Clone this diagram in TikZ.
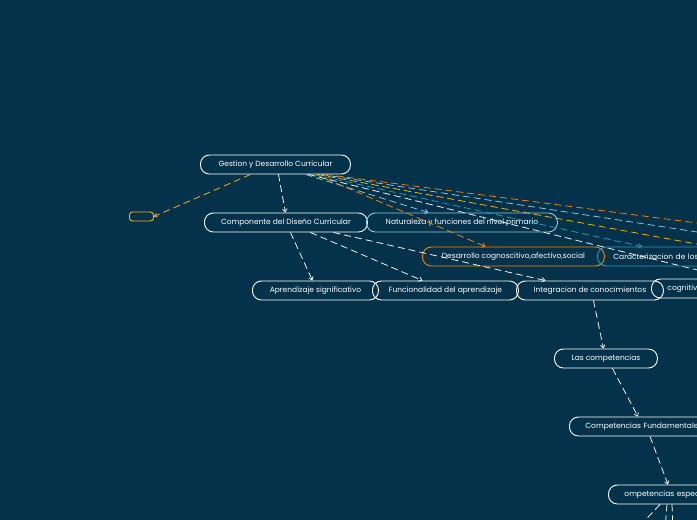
\documentclass[tikz,border=0pt]{standalone}
\usepackage{fontspec}
\setmainfont{Poppins}
\usetikzlibrary{arrows.meta,calc}
\definecolor{bg}{HTML}{03324A}
\definecolor{corange}{HTML}{FB8500}
\definecolor{camber}{HTML}{FFB703}
\definecolor{cblue}{HTML}{219EBC}
\definecolor{cpale}{HTML}{8ECAE6}
\begin{document}
\begin{tikzpicture}[x=1pt,y=-1pt,
  box/.style={draw=white, line width=0.9pt, rounded corners=9pt, minimum height=19pt, inner ysep=0pt, text=white, font=\fontsize{7.5}{9}\selectfont, anchor=west},
  cutbox/.style={box, inner xsep=16pt, text width=220pt, align=left},
  con/.style={dash pattern=on 7pt off 4pt, line width=0.75pt, -{Straight Barb[length=3pt,width=4.5pt]}},
  wcon/.style={con, draw=white},
  ocon/.style={con, draw=corange},
  acon/.style={con, draw=camber},
  bcon/.style={con, draw=cblue},
  pcon/.style={con, draw=cpale}]
\fill[bg] (0,0) rectangle (697,520);
\useasboundingbox (0,0) rectangle (697,520);
\clip (0,0) rectangle (697,520);

% free ends
\coordinate (o1) at (720,226);
\coordinate (p1) at (720,235.5);
\coordinate (a1) at (720,248.3);
\coordinate (w1) at (734,279);
\coordinate (d1) at (636,530);
\coordinate (d2) at (665,530);
\coordinate (d3) at (673,530);

\node[box, minimum width=150pt] (G) at (200,164.5) {Gestion y Desarrollo Curricular};
% lines from Gestion to the right (drawn first, under boxes)
\draw[ocon] ([xshift=50pt]G.south) -- (o1);
\draw[pcon] ([xshift=46pt]G.south) -- (p1);
\draw[acon] ([xshift=42pt]G.south) -- (a1);
\draw[wcon] ([xshift=33pt]G.south) -- (w1);

\node[box, draw=camber, minimum width=24pt, minimum height=9pt, rounded corners=3pt] (E) at (129,216.5) {};
\node[box, minimum width=163pt] (C) at (204,222.5) {Componente del Diseño Curricular};
\node[box, draw=cpale, minimum width=191pt] (N) at (366,222.5) {Naturaleza y funciones del nivel primario};
\node[box, draw=corange, minimum width=182pt] (D) at (422,256.5) {Desarrollo cognoscitivo,afectivo,social};
\node[cutbox, draw=cblue] (K) at (597,256.5) {Caracterizacion de los};
\node[box, minimum width=126pt] (A) at (252,290.5) {Aprendizaje significativo};
\node[box, minimum width=146pt] (F) at (372,290.5) {Funcionalidad del aprendizaje};
\node[box, minimum width=147pt] (I) at (516,290.5) {Integracion de conocimientos};
\node[cutbox] (Cg) at (651,288.5) {cognitiv};
\node[box, minimum width=103pt] (L) at (554,358.5) {Las competencias};
\node[cutbox] (CF) at (569,426.5) {Competencias Fundamentale};
\node[cutbox] (OE) at (608,494.5) {ompetencias espec};

% connectors
\draw[acon] ([xshift=-25pt]G.south) -- (E.east);
\draw[wcon] ([xshift=3pt]G.south) -- ([xshift=-0.5pt]C.north);
\draw[pcon] ([xshift=30pt]G.south) -- ([xshift=-33.5pt]N.north);
\draw[ocon] ([xshift=40pt]G.south) -- ([xshift=-28pt]D.north);
\draw[bcon] ([xshift=38pt]G.south) -- ([xshift=45pt]K.north west);
\draw[wcon] ([xshift=4.5pt]C.south) -- ([xshift=-3pt]A.north);
\draw[wcon] ([xshift=24.5pt]C.south) -- ([xshift=-23pt]F.north);
\draw[wcon] ([xshift=47.5pt]C.south) -- ([xshift=-44.5pt]I.north);
\draw[wcon] ([xshift=3.5pt]I.south) -- ([xshift=-2.5pt]L.north);
\draw[wcon] ([xshift=6.5pt]L.south) -- ([xshift=69pt]CF.north west);
\draw[wcon] ([xshift=81pt]CF.south west) -- ([xshift=60pt]OE.north west);
\draw[wcon, -] ([xshift=52pt]OE.south west) -- (d1);
\draw[wcon, -] ([xshift=59pt]OE.south west) -- (d2);
\draw[wcon, -] ([xshift=64pt]OE.south west) -- (d3);
\end{tikzpicture}
\end{document}
